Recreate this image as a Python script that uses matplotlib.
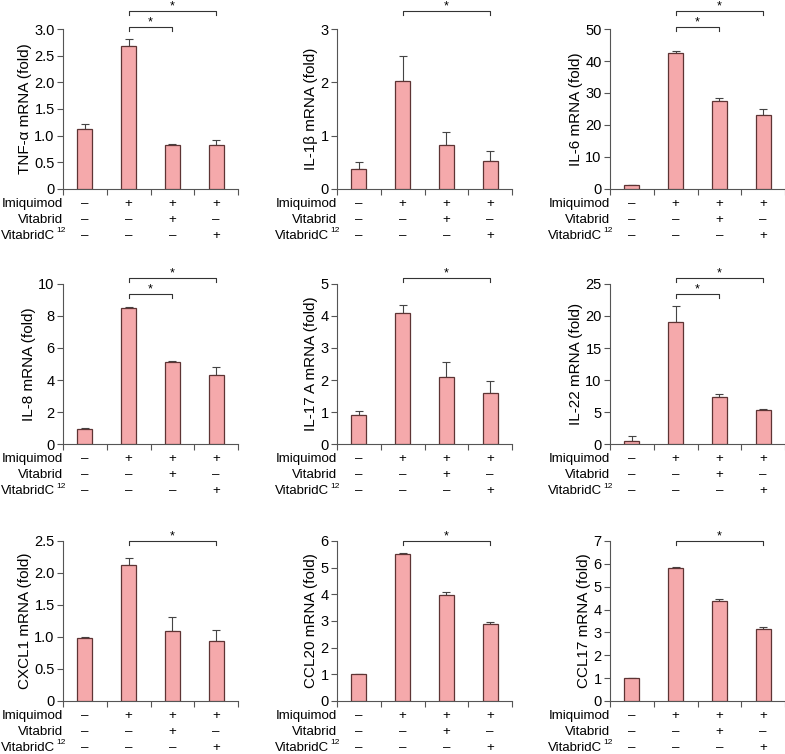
import matplotlib
matplotlib.use("Agg")
from matplotlib import pyplot as plt
from matplotlib import transforms
import numpy as np

plt.rcParams['font.family'] = ['Liberation Sans', 'DejaVu Sans']

# data
ylabels = ["TNF-α mRNA (fold)", "IL-1β mRNA (fold)", "IL-6 mRNA (fold)",
           "IL-8 mRNA (fold)", "IL-17 A mRNA (fold)", "IL-22 mRNA (fold)",
           "CXCL1 mRNA (fold)", "CCL20 mRNA (fold)", "CCL17 mRNA (fold)"]
means = [[1.12, 2.68, 0.82, 0.82],
         [0.38, 2.02, 0.83, 0.52],
         [1.2, 42.5, 27.5, 23.1],
         [0.95, 8.5, 5.1, 4.3],
         [0.92, 4.1, 2.1, 1.58],
         [0.5, 19.0, 7.4, 5.3],
         [0.98, 2.12, 1.09, 0.93],
         [1.0, 5.5, 3.97, 2.9],
         [1.0, 5.8, 4.36, 3.13]]
errs = [[0.1, 0.13, 0.03, 0.1],
        [0.13, 0.48, 0.23, 0.2],
        [0.1, 0.7, 0.8, 2.0],
        [0.08, 0.08, 0.1, 0.5],
        [0.12, 0.25, 0.45, 0.4],
        [0.7, 2.5, 0.4, 0.2],
        [0.02, 0.12, 0.22, 0.18],
        [0.01, 0.06, 0.1, 0.05],
        [0.02, 0.07, 0.1, 0.1]]
yticks = [[0, 0.5, 1.0, 1.5, 2.0, 2.5, 3.0],
          [0, 1, 2, 3],
          [0, 10, 20, 30, 40, 50],
          [0, 2, 4, 6, 8, 10],
          [0, 1, 2, 3, 4, 5],
          [0, 5, 10, 15, 20, 25],
          [0, 0.5, 1.0, 1.5, 2.0, 2.5],
          [0, 1, 2, 3, 4, 5, 6],
          [0, 1, 2, 3, 4, 5, 6, 7]]
# significance brackets: (from bar, to bar, level)
brackets = [[(1, 3, "hi"), (1, 2, "lo")],
            [(1, 3, "hi")],
            [(1, 3, "hi"), (1, 2, "lo")],
            [(1, 3, "hi"), (1, 2, "lo")],
            [(1, 3, "hi")],
            [(1, 3, "hi"), (1, 2, "lo")],
            [(1, 3, "hi")],
            [(1, 3, "hi")],
            [(1, 3, "hi")]]
row_names = ["Imiquimod", "Vitabrid", "VitabridC"]
treatments = [["–", "+", "+", "+"],
              ["–", "–", "+", "–"],
              ["–", "–", "–", "+"]]

W, H = 785, 754
fig = plt.figure(figsize=(W / 100, H / 100), dpi=100)

col_left = [63, 337, 610]
col_w = 175
row_top = [29, 284, 541]
ax_h = 160
# bracket heights (pixels above axis top) per row
br_hi = [18, 6, 0]
br_lo = [2, -10, -16]

fill = "#f5a9ab"
edge = "#5e3434"
axcol = "#555555"

for i in range(9):
    r, c = divmod(i, 3)
    ax = fig.add_axes([col_left[c] / W, (H - row_top[r] - ax_h) / H, col_w / W, ax_h / H])
    x = np.arange(4) + 0.5
    ax.bar(x, means[i], width=0.34, color=fill, edgecolor=edge, linewidth=0.9, zorder=3)
    ax.errorbar(x, means[i], yerr=[np.zeros(4), errs[i]], fmt="none",
                ecolor="#444444", elinewidth=0.8, capsize=3, capthick=0.8, zorder=2)
    ax.set_xlim(0, 4)
    ax.set_ylim(0, yticks[i][-1])
    ax.set_yticks(yticks[i])
    ax.set_yticklabels([("%g" % t) if t == 0 or yticks[i][1] >= 1
                        else "%.1f" % t for t in yticks[i]])
    ax.set_xticks([0, 1, 2, 3, 4])
    ax.set_xticklabels([])
    for s in ["top", "right"]:
        ax.spines[s].set_visible(False)
    for s in ["left", "bottom"]:
        ax.spines[s].set_color(axcol)
        ax.spines[s].set_linewidth(0.8)
    ax.tick_params(axis="both", direction="out", length=4, width=0.8, color=axcol,
                   labelsize=10.5, pad=2)
    ax.set_ylabel(ylabels[i], fontsize=11, labelpad=2)

    # treatment rows below axis
    for k in range(3):
        off = (15 + 16 * k) / ax_h
        if k == 2:
            shift = transforms.offset_copy(ax.transAxes, fig=fig, x=-7.5, y=0, units="dots")
            ax.text(0, -off, row_names[k], transform=shift, ha="right", va="center",
                    fontsize=9.5)
            sup = transforms.offset_copy(ax.transAxes, fig=fig, x=-6.5, y=5, units="dots")
            ax.text(0, -off, "12", transform=sup, ha="left", va="center", fontsize=6)
        else:
            ax.text(0, -off, row_names[k], transform=ax.transAxes, ha="right",
                    va="center", fontsize=9.6)
        for j in range(4):
            ax.text((j + 0.5) / 4, -off, treatments[k][j], transform=ax.transAxes,
                    ha="center", va="center", fontsize=9.6)

    # significance brackets
    tr = transforms.blended_transform_factory(ax.transData, ax.transAxes)
    for a, b, lvl in brackets[i]:
        yp = br_hi[r] if lvl == "hi" else br_lo[r]
        yb = 1 + yp / ax_h
        leg = 4 / ax_h
        ax.plot([x[a], x[a], x[b], x[b]], [yb - leg, yb, yb, yb - leg], transform=tr,
                color="#333333", lw=0.8, clip_on=False)
        ax.text((x[a] + x[b]) / 2, yb + 5 / ax_h, "*", transform=tr, ha="center",
                va="center", fontsize=9)

fig.savefig("out.png", dpi=100)
